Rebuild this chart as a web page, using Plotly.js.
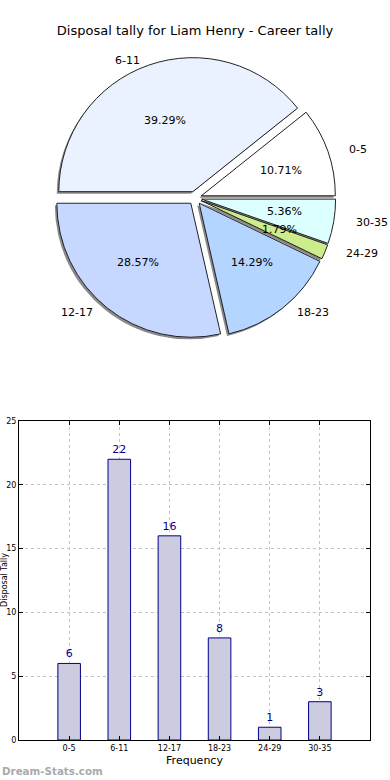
<!DOCTYPE html>
<html>
<head>
<meta charset="utf-8">
<script src="https://cdn.plot.ly/plotly-3.0.1.min.js"></script>
<style>html,body{margin:0;padding:0;background:#fff;}#chart{width:390px;height:780px;}</style>
</head>
<body>
<div id="chart"></div>
<script>
// ---- data ----
const categories = ['0-5', '6-11', '12-17', '18-23', '24-29', '30-35'];
const tally = [6, 22, 16, 8, 1, 3];
const pieColors = ['#ffffff', '#eaf1ff', '#c6d8ff', '#b3d5ff', '#cdec8c', '#dcffff'];
const yTicks = [0, 5, 10, 15, 20, 25];
const chartTitle = 'Disposal tally for Liam Henry - Career tally';

// ---- geometry (layout only) ----
const W = 390, H = 780;
const FONT = 'DejaVu Sans, Arial, sans-serif';
const pieCx = 195, pieCy = 198, pieR = 134, pull = 0.05;
const labRx = 140, labRy = 127;   // label placement radii (reference pie is slightly elliptical)
const box = pieR * (1 + pull);
const px2x = p => p / W;
const px2y = p => 1 - p / H;
const pieDomain = (dx, dy) => ({
  x: [px2x(pieCx - box + dx), px2x(pieCx + box + dx)],
  y: [px2y(pieCy + box + dy), px2y(pieCy - box + dy)]
});

const total = tally.reduce((a, b) => a + b, 0);
// first slice starts at 3 o'clock and runs counterclockwise
const rotation = 90 - 360 * tally[0] / total;

const annotations = [];
let cum = 0;
tally.forEach((v, i) => {
  const mid = (cum + v / 2) / total * 2 * Math.PI;
  cum += v;
  const c = Math.cos(mid), s = Math.sin(mid);
  const lf = 1.1 + pull, pf = 0.6 + pull;
  annotations.push({
    x: px2x(pieCx + c * lf * labRx), y: px2y(pieCy - s * lf * labRy), xref: 'paper', yref: 'paper',
    text: categories[i], showarrow: false, xanchor: c > 0 ? 'left' : 'right', yanchor: 'middle',
    font: {family: FONT, size: 11, color: '#000'}
  });
  annotations.push({
    x: px2x(pieCx + c * pf * labRx), y: px2y(pieCy - s * pf * labRy), xref: 'paper', yref: 'paper',
    text: (v / total * 100).toFixed(2) + '%', showarrow: false, xanchor: 'center', yanchor: 'middle',
    font: {family: FONT, size: 11, color: '#000'}
  });
});
annotations.push({
  x: px2x(4), y: px2y(580), xref: 'paper', yref: 'paper', text: 'Disposal Tally', textangle: -90,
  showarrow: false, xanchor: 'center', yanchor: 'middle', font: {family: FONT, size: 8, color: '#000'}
});
annotations.push({
  x: 0, y: px2y(771), xref: 'paper', yref: 'paper', text: '<b>Dream-Stats.com</b>',
  showarrow: false, xanchor: 'left', yanchor: 'middle', font: {family: FONT, size: 10.3, color: '#aaaaaa'}
});

const shadow = {
  type: 'pie', values: tally, labels: categories, sort: false, direction: 'counterclockwise',
  rotation: rotation, pull: tally.map(() => pull), textinfo: 'none', hoverinfo: 'skip',
  marker: {colors: tally.map(() => '#8a8a8a'), line: {width: 0}},
  domain: pieDomain(-2, 2), showlegend: false
};
const pie = {
  type: 'pie', values: tally, labels: categories, sort: false, direction: 'counterclockwise',
  rotation: rotation, pull: tally.map(() => pull), textinfo: 'none',
  marker: {colors: pieColors, line: {color: '#222', width: 1}},
  domain: pieDomain(0, 0), showlegend: false
};
const bars = {
  type: 'bar', x: categories, y: tally, width: 0.45,
  marker: {color: '#cccce0', line: {color: '#00008b', width: 1}},
  text: tally.map(String), textposition: 'outside', cliponaxis: false,
  textfont: {family: FONT, size: 11, color: '#00008b'},
  xaxis: 'x', yaxis: 'y', showlegend: false
};

const layout = {
  width: W, height: H, margin: {l: 0, r: 0, t: 0, b: 0},
  paper_bgcolor: '#fff', plot_bgcolor: '#fff',
  font: {family: FONT, color: '#000'},
  title: {text: chartTitle, x: 0.5, xanchor: 'center', y: px2y(30), yanchor: 'middle',
          font: {family: FONT, size: 13, color: '#000'}},
  xaxis: {
    domain: [px2x(19), px2x(370)], anchor: 'y', range: [-1, 6], type: 'category',
    showline: true, linecolor: '#000', linewidth: 1, mirror: 'ticks',
    ticks: 'inside', ticklen: 4, tickcolor: '#000',
    showgrid: true, gridcolor: '#c4c4c4', griddash: 'dot', gridwidth: 1,
    tickfont: {family: FONT, size: 8, color: '#000'}, layer: 'above traces',
    title: {text: 'Frequency', font: {family: FONT, size: 11, color: '#000'}, standoff: 4},
    zeroline: false, fixedrange: true
  },
  yaxis: {
    domain: [px2y(740), px2y(421)], anchor: 'x', range: [0, 25], tickvals: yTicks,
    showline: true, linecolor: '#000', linewidth: 1, mirror: 'ticks',
    ticks: 'inside', ticklen: 4, tickcolor: '#000',
    showgrid: true, gridcolor: '#c4c4c4', griddash: 'dot', gridwidth: 1,
    tickfont: {family: FONT, size: 8, color: '#000'}, layer: 'above traces',
    zeroline: false, fixedrange: true
  },
  annotations: annotations,
  bargap: 0
};

Plotly.newPlot('chart', [shadow, pie, bars], layout, {displayModeBar: false, staticPlot: true});
</script>
</body>
</html>
